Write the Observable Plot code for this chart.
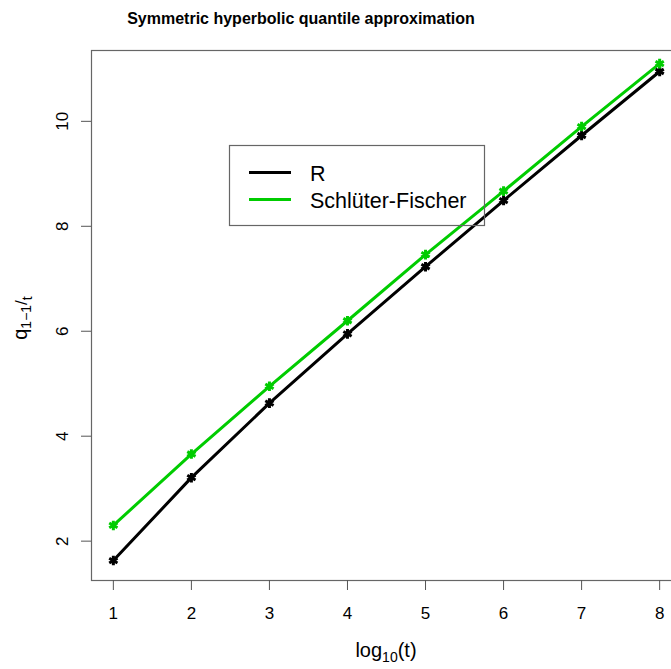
<!DOCTYPE html>
<html><head><meta charset="utf-8">
<script src="https://cdn.jsdelivr.net/npm/d3@7"></script>
<script src="https://cdn.jsdelivr.net/npm/@observablehq/plot@0.6"></script>
<style>
html,body{margin:0;padding:0;background:#fff;}
#wrap{width:671px;height:669px;overflow:hidden;position:relative;}
#wrap svg{max-width:none !important;width:690px;height:669px;font-family:"Liberation Sans",Arial,sans-serif;}
</style></head>
<body><div id="wrap"></div>
<script>
const logT = [1, 2, 3, 4, 5, 6, 7, 8];
const rValues = [1.63, 3.21, 4.63, 5.95, 7.23, 8.49, 9.73, 10.95];
const sfValues = [2.30, 3.66, 4.95, 6.20, 7.46, 8.67, 9.90, 11.10];
const seriesNames = ["R", "Schlüter-Fischer"];
const seriesColors = ["#000000", "#00cc00"];
const xTicks = [1, 2, 3, 4, 5, 6, 7, 8];
const yTicks = [2, 4, 6, 8, 10];
const title = "Symmetric hyperbolic quantile approximation";

const data = [];
logT.forEach((x, i) => {
  data.push({x, y: rValues[i], s: seriesNames[0]});
  data.push({x, y: sfValues[i], s: seriesNames[1]});
});

const W = 690, H = 669;
const plot = Plot.plot({
  width: W, height: H,
  marginLeft: 91, marginRight: 9, marginTop: 50, marginBottom: 89,
  style: {fontFamily: '"Liberation Sans", Arial, sans-serif', fontSize: "17px", color: "#000", background: "#fff", maxWidth: "none"},
  x: {domain: [0.72, 8.28]},
  y: {domain: [1.25, 11.35]},
  color: {domain: seriesNames, range: seriesColors},
  marks: [
    Plot.frame({stroke: "#666", strokeWidth: 1.2}),
    Plot.axisX({ticks: xTicks, tickSize: 10, tickPadding: 16, label: null, fontSize: 17, stroke: "#555"}),
    Plot.axisY({ticks: yTicks, tickSize: 10, tickFormat: () => "", label: null, stroke: "#555"}),
    Plot.text(yTicks, {y: d => d, text: d => String(d), frameAnchor: "left", dx: -29, rotate: -90, fontSize: 17, textAnchor: "middle", lineAnchor: "middle"}),
    Plot.line(data, {x: "x", y: "y", z: "s", stroke: "s", strokeWidth: 3}),
    Plot.dot(data, {x: "x", y: "y", stroke: "s", fill: "s", symbol: "asterisk", r: 4.5, strokeWidth: 3})
  ]
});
document.getElementById("wrap").appendChild(plot);

const svg = d3.select(plot);
svg.append("text").attr("x", 301).attr("y", 24).attr("text-anchor", "middle")
  .attr("font-weight", "bold").attr("font-size", 16).text(title);

// x label
const xl = svg.append("text").attr("x", 386).attr("y", 657).attr("text-anchor", "middle").attr("font-size", 20);
xl.append("tspan").text("log");
xl.append("tspan").attr("font-size", 14).attr("dy", 5).text("10");
xl.append("tspan").attr("dy", -5).text("(t)");

// y label
const yl = svg.append("text").attr("transform", "translate(27,318) rotate(-90)").attr("text-anchor", "middle").attr("font-size", 20);
yl.append("tspan").text("q");
yl.append("tspan").attr("font-size", 14).attr("dy", 4).text("1\u22121");
yl.append("tspan").attr("font-size", 17).attr("dy", -4).text("/");
yl.append("tspan").attr("font-size", 14).attr("dy", 5).text("t");

// legend (transparent box, drawn over the lines like R's default)
const lg = svg.append("g").attr("text-anchor", "start");
lg.append("rect").attr("x", 229.5).attr("y", 145.5).attr("width", 255).attr("height", 80)
  .attr("fill", "none").attr("stroke", "#666").attr("stroke-width", 1.2);
seriesNames.forEach((n, i) => {
  const yy = 172.5 + i * 27;
  lg.append("line").attr("x1", 249).attr("x2", 291).attr("y1", yy).attr("y2", yy)
    .attr("stroke", seriesColors[i]).attr("stroke-width", 3);
  lg.append("text").attr("x", 310).attr("y", yy + 8).attr("text-anchor", "start").attr("font-size", 21.5).text(n);
});
</script></body></html>
